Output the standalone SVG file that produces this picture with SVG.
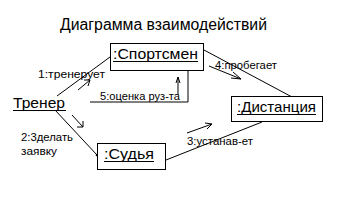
<svg xmlns="http://www.w3.org/2000/svg" width="352" height="201" viewBox="0 0 352 201">
<style>
text{font-family:"Liberation Sans",Arial,sans-serif;fill:#000}
.t{font-size:16px}
.n{font-size:15px}
.l{font-size:11px}
.box{fill:#fff;stroke:#000;stroke-width:1}
.ln{stroke:#000;stroke-width:1;fill:none}
</style>
<rect width="352" height="201" fill="#fff"/>
<text class="t" x="60" y="30" textLength="207" lengthAdjust="spacingAndGlyphs">Диаграмма взаимодействий</text>
<g id="connectors">
<line class="ln" x1="57" y1="96" x2="110" y2="57"/>
<line class="ln" x1="55" y1="110" x2="97" y2="155"/>
<circle cx="97" cy="155" r="1.3" fill="#000"/>
<line class="ln" x1="204" y1="50" x2="292" y2="97"/>
<line class="ln" x1="166" y1="160" x2="262" y2="122"/>
<polyline class="ln" points="188,70 188,102 90,102"/>
<line class="ln" x1="78" y1="90" x2="90" y2="80"/>
<polyline class="ln" points="84,80 90,80 88,86"/>
<line class="ln" x1="72" y1="115" x2="83" y2="127"/>
<polyline class="ln" points="83,121 83,127 77,127"/>
<line class="ln" x1="178" y1="95" x2="178" y2="77"/>
<polyline class="ln" points="176,83 178,77 180,83"/>
<line class="ln" x1="209" y1="66" x2="241" y2="79"/>
<polyline class="ln" points="233,72 241,79 231,78"/>
<line class="ln" x1="187" y1="133" x2="212" y2="124"/>
<polyline class="ln" points="205,123 212,124 207,129"/>
<text class="l" x="38" y="78" textLength="67" lengthAdjust="spacingAndGlyphs">1:тренерует</text>
<text class="l" x="21" y="141" textLength="52" lengthAdjust="spacingAndGlyphs">2:3делать</text>
<text class="l" x="21" y="155" textLength="36" lengthAdjust="spacingAndGlyphs">заявку</text>
<text class="l" x="187" y="145" textLength="66" lengthAdjust="spacingAndGlyphs">3:устанав-ет</text>
<text class="l" x="215" y="69" textLength="62" lengthAdjust="spacingAndGlyphs">4:пробегает</text>
<text class="l" x="100" y="100" textLength="80" lengthAdjust="spacingAndGlyphs">5:оценка руз-та</text>
</g>
<g id="trener">
<text class="n" x="13" y="108" textLength="52" lengthAdjust="spacingAndGlyphs">Тренер</text>
<line class="ln" x1="13" y1="110.5" x2="66" y2="110.5"/>
</g>
<g id="sportsmen">
<rect class="box" x="110.5" y="43.5" width="93" height="27"/>
<text class="n" x="113" y="59" textLength="85" lengthAdjust="spacingAndGlyphs">:Спортсмен</text>
<line class="ln" x1="113" y1="61.5" x2="198" y2="61.5"/>
</g>
<g id="distancia">
<rect class="box" x="231.5" y="96.5" width="91" height="25"/>
<text class="n" x="237" y="112" textLength="79" lengthAdjust="spacingAndGlyphs">:Дистанция</text>
<line class="ln" x1="237" y1="114.5" x2="316" y2="114.5"/>
</g>
<g id="sudya">
<rect class="box" x="97.5" y="143.5" width="68" height="26"/>
<text class="n" x="104" y="159" textLength="50" lengthAdjust="spacingAndGlyphs">:Судья</text>
<line class="ln" x1="104" y1="161.5" x2="154" y2="161.5"/>
</g>
</svg>
